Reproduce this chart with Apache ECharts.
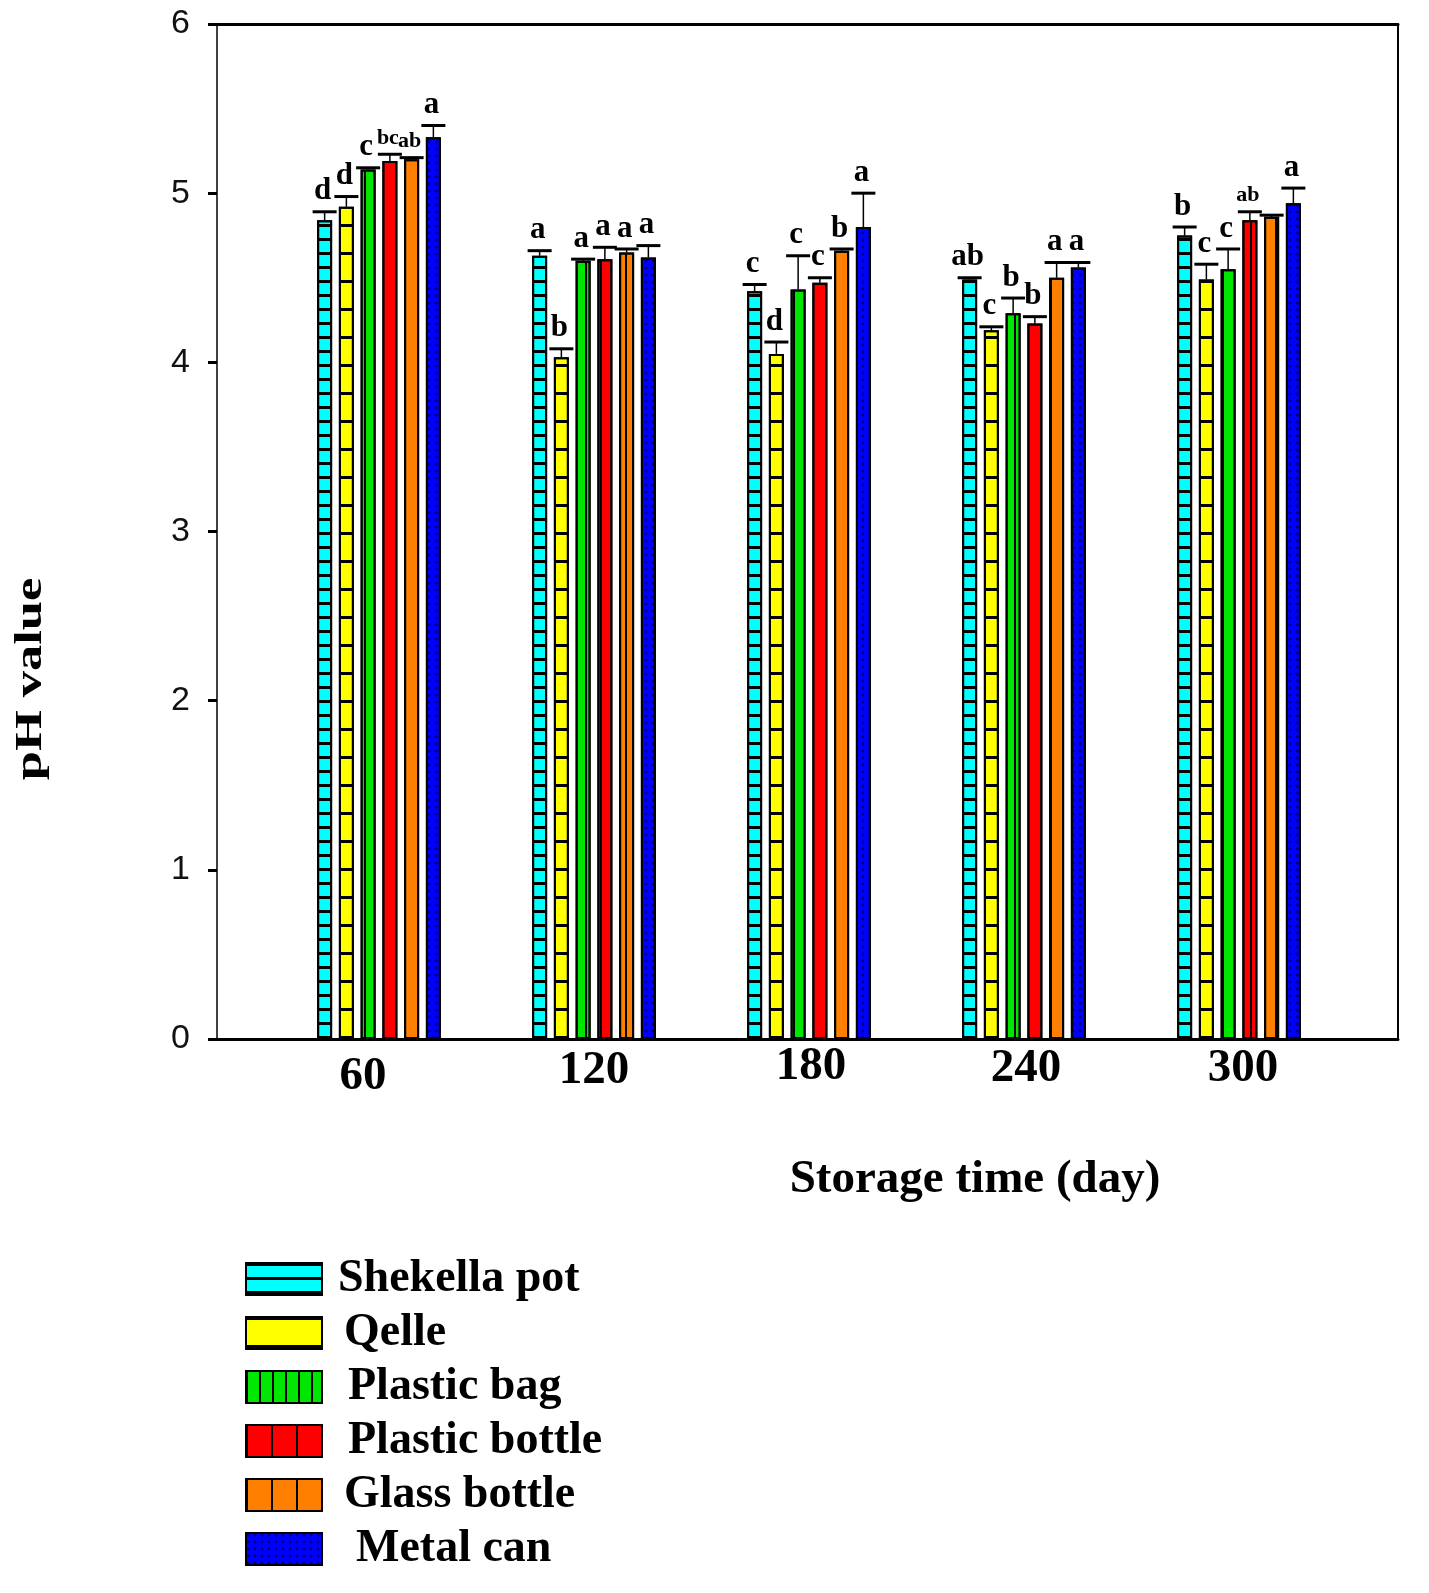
<!DOCTYPE html>
<html>
<head>
<meta charset="utf-8">
<title>pH value</title>
<script src="https://cdn.jsdelivr.net/npm/echarts@6/dist/echarts.min.js"></script>
<style>
    html, body { margin: 0; padding: 0; background: #fff; }
    #main { width: 1429px; height: 1593px; }
</style>
</head>
<body>
<div id="main"></div>
<script>
    // 数据: storage days and pH means
    var days = ['60', '120', '180', '240', '300'];
    var seriesNames = ['Shekella pot', 'Qelle', 'Plastic bag', 'Plastic bottle', 'Glass bottle', 'Metal can'];

    var shekella      = [4.84, 4.63, 4.42, 4.49, 4.75];
    var qelle         = [4.92, 4.03, 4.05, 4.19, 4.49];
    var plasticBag    = [5.14, 4.60, 4.43, 4.29, 4.55];
    var plasticBottle = [5.19, 4.61, 4.47, 4.23, 4.84];
    var glassBottle   = [5.20, 4.65, 4.66, 4.50, 4.86];
    var metalCan      = [5.33, 4.62, 4.80, 4.56, 4.94];

    // upper error bars
    var errShekella      = [0.05, 0.03, 0.04, 0.01, 0.05];
    var errQelle         = [0.06, 0.05, 0.07, 0.02, 0.09];
    var errPlasticBag    = [0.01, 0.01, 0.20, 0.09, 0.12];
    var errPlasticBottle = [0.04, 0.07, 0.03, 0.04, 0.05];
    var errGlassBottle   = [0.01, 0.02, 0.01, 0.09, 0.01];
    var errMetalCan      = [0.07, 0.07, 0.20, 0.03, 0.09];

    // significance letters
    var letShekella      = ['d', 'a', 'c', 'ab', 'b'];
    var letQelle         = ['d', 'b', 'd', 'c', 'c'];
    var letPlasticBag    = ['c', 'a', 'c', 'b', 'c'];
    var letPlasticBottle = ['bc', 'a', 'c', 'b', 'ab'];
    var letGlassBottle   = ['ab', 'a', 'b', 'a', ''];
    var letMetalCan      = ['a', 'a', 'a', 'a', 'a'];

    var values  = [shekella, qelle, plasticBag, plasticBottle, glassBottle, metalCan];
    var errors  = [errShekella, errQelle, errPlasticBag, errPlasticBottle, errGlassBottle, errMetalCan];
    var letters = [letShekella, letQelle, letPlasticBag, letPlasticBottle, letGlassBottle, letMetalCan];

    // styles
    var colors = ['#00ffff', '#ffff00', '#00e600', '#ff0000', '#ff8000', '#0000ff'];
    var decals = [
        { symbol: 'rect', symbolSize: 1, dashArrayX: [1, 0], dashArrayY: [3, 11], color: '#000' },
        { symbol: 'rect', symbolSize: 1, dashArrayX: [1, 0], dashArrayY: [3, 25], color: '#000' },
        { symbol: 'rect', symbolSize: 1, dashArrayX: [2, 11], dashArrayY: [1, 0], color: '#000' },
        { symbol: 'rect', symbolSize: 1, dashArrayX: [2, 23], dashArrayY: [1, 0], color: '#000' },
        { symbol: 'rect', symbolSize: 1, dashArrayX: [2, 23], dashArrayY: [1, 0], color: '#000' },
        { symbol: 'circle', symbolSize: 0.7, dashArrayX: [4, 3], dashArrayY: [4, 3], color: '#000070' }
    ];
    var labelPad = [[10, 32, 0, 0], [4, 0, 0, 0], [0, 0, 0, 4], [2, 0, 0, 4], [2, 0, 0, 8]];
    var legendPad = [11, 17, 21, 21, 17, 29];

    var barWidth = 15;
    var step = barWidth * 1.45;
    var serif = 'Liberation Serif';

    var series = [];
    values.forEach(function (arr, s) {
        series.push({
            name: seriesNames[s],
            type: 'bar',
            xAxisIndex: 2,
            yAxisIndex: 2,
            barWidth: barWidth,
            barGap: '45%',
            data: arr,
            itemStyle: { color: colors[s], borderColor: '#000', borderWidth: 2, decal: decals[s] },
            emphasis: { disabled: true }
        });
    });

    var errData = [];
    values.forEach(function (arr, s) {
        arr.forEach(function (v, c) {
            errData.push([c, s, v, errors[s][c]]);
        });
    });

    series.push({
        type: 'custom',
        xAxisIndex: 2,
        yAxisIndex: 2,
        z: 10,
        data: errData,
        renderItem: function (params, api) {
            var c = api.value(0), s = api.value(1), v = api.value(2), e = api.value(3);
            var base = api.coord([c, v]);
            var top = api.coord([c, v + e]);
            var x = base[0] + (s - 2.5) * step;
            var letter = letters[s][c];
            var size = (letter.length > 1 && c !== 3) ? 22 : 31;
            return {
                type: 'group',
                children: [
                    { type: 'line', shape: { x1: x, y1: base[1], x2: x, y2: top[1] }, style: { stroke: '#000', lineWidth: 1.5 } },
                    { type: 'line', shape: { x1: x - 12, y1: top[1], x2: x + 12, y2: top[1] }, style: { stroke: '#000', lineWidth: 3 } },
                    { type: 'text', x: x - 2, y: top[1] - 5,
                      style: { text: letter, fill: '#000', font: 'bold ' + size + 'px ' + serif, align: 'center', verticalAlign: 'bottom' } }
                ]
            };
        }
    });

    var frameLine = function (w) {
        return { show: true, onZero: false, lineStyle: { color: '#000', width: w } };
    };

    var option = {
        animation: false,
        backgroundColor: '#fff',
        grid: [
            { left: 217, top: 24, width: 1181, height: 1015 },
            { left: 271.5, top: 24, width: 1075, height: 1015 }
        ],
        xAxis: [
            { type: 'value', gridIndex: 0, min: 0, max: 1, position: 'bottom', axisLine: frameLine(3),
              axisTick: { show: false }, axisLabel: { show: false }, splitLine: { show: false } },
            { type: 'value', gridIndex: 0, min: 0, max: 1, position: 'top', axisLine: frameLine(3),
              axisTick: { show: false }, axisLabel: { show: false }, splitLine: { show: false } },
            { type: 'category', gridIndex: 1,
              data: days.map(function (d, i) { return { value: d, textStyle: { padding: labelPad[i] } }; }),
              axisLine: { show: false }, axisTick: { show: false }, splitLine: { show: false },
              axisLabel: { margin: 4, color: '#000', fontFamily: serif, fontWeight: 'bold', fontSize: 47 } }
        ],
        yAxis: [
            { type: 'value', gridIndex: 0, min: 0, max: 6, interval: 1, position: 'left', axisLine: frameLine(1.5),
              axisTick: { show: true, length: 9, lineStyle: { color: '#000', width: 3 } },
              axisLabel: { margin: 27, color: '#111', fontFamily: 'Liberation Sans', fontSize: 34 },
              splitLine: { show: false } },
            { type: 'value', gridIndex: 0, min: 0, max: 6, position: 'right', axisLine: frameLine(2),
              axisTick: { show: false }, axisLabel: { show: false }, splitLine: { show: false } },
            { type: 'value', gridIndex: 1, min: 0, max: 6, show: false }
        ],
        legend: {
            orient: 'vertical',
            left: 240,
            top: 1251,
            height: 342,
            icon: 'rect',
            itemWidth: 76,
            itemHeight: 32,
            itemGap: 8,
            selectedMode: false,
            itemStyle: { borderColor: '#000', borderWidth: 2 },
            textStyle: { color: '#000', fontFamily: serif, fontWeight: 'bold', fontSize: 46 },
            data: seriesNames.map(function (n, i) { return { name: n, textStyle: { padding: [0, 0, 0, legendPad[i]] } }; })
        },
        graphic: [
            { type: 'text', x: 975, y: 1180,
              style: { text: 'Storage time (day)', fill: '#000', font: 'bold 47px ' + serif, align: 'center', verticalAlign: 'middle' } },
            { type: 'text', x: 31, y: 679, rotation: Math.PI / 2, scaleX: 1.38,
              style: { text: 'pH value', fill: '#000', font: 'bold 38px ' + serif, align: 'center', verticalAlign: 'middle' } }
        ],
        series: series
    };

    var myChart = echarts.init(document.getElementById('main'));
    myChart.setOption(option);
</script>
</body>
</html>
